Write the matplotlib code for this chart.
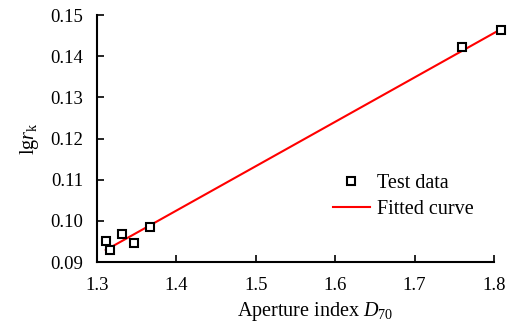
import matplotlib
matplotlib.use('Agg')
import matplotlib.pyplot as plt
import numpy as np

plt.rcParams['font.family'] = ['Liberation Serif', 'DejaVu Serif']
plt.rcParams['mathtext.fontset'] = 'custom'
plt.rcParams['mathtext.rm'] = 'Liberation Serif'
plt.rcParams['mathtext.it'] = 'Liberation Serif:italic'

# measured points
aperture_index = [1.311, 1.317, 1.332, 1.3465, 1.367, 1.7595, 1.809]
lg_rk = [0.0950, 0.0928, 0.0967, 0.0946, 0.0986, 0.1423, 0.1463]

# fitted line end points
fit_x = [1.311, 1.810]
fit_y = [0.0929, 0.1467]

x_ticks = [1.3, 1.4, 1.5, 1.6, 1.7, 1.8]
y_ticks = [0.09, 0.10, 0.11, 0.12, 0.13, 0.14, 0.15]

fig = plt.figure(figsize=(5.14, 3.29), dpi=100)
ax = fig.add_axes([0.1887, 0.2036, 0.7724, 0.7508])

ax.plot(aperture_index, lg_rk, linestyle='none', marker='s', markersize=5.5,
        markerfacecolor='white', markeredgecolor='black', markeredgewidth=1.5,
        label='Test data', zorder=3, clip_on=False)
ax.plot(fit_x, fit_y, color='red', linewidth=1.5, label='Fitted curve', zorder=2,
        clip_on=False)

ax.set_xlim(1.3, 1.8)
ax.set_ylim(0.09, 0.15)
ax.set_xticks(x_ticks)
ax.set_xticklabels([f'{v:.1f}' for v in x_ticks])
ax.set_yticks(y_ticks)
ax.set_yticklabels([f'{v:.2f}' for v in y_ticks])

for s in ['top', 'right']:
    ax.spines[s].set_visible(False)
for s in ['left', 'bottom']:
    ax.spines[s].set_linewidth(1.5)
ax.tick_params(direction='in', length=5, width=1.2, labelsize=13.5)
ax.tick_params(axis='x', pad=11)
ax.tick_params(axis='y', pad=10)

ax.set_xlabel('Aperture index $\\mathit{D}_{70}$', fontsize=14.5)
ax.xaxis.set_label_coords(0.55, -0.152)
ax.set_ylabel('lg$\\mathit{r}_{\\mathrm{k}}$', fontsize=14.5)
ax.yaxis.set_label_coords(-0.142, 0.5)

ax.legend(loc='upper left', bbox_to_anchor=(0.594, 0.358), frameon=False,
          fontsize=14.5, handlelength=1.85, handletextpad=0.35, labelspacing=0.35,
          borderpad=0, borderaxespad=0)

fig.savefig('out.png', dpi=100)
